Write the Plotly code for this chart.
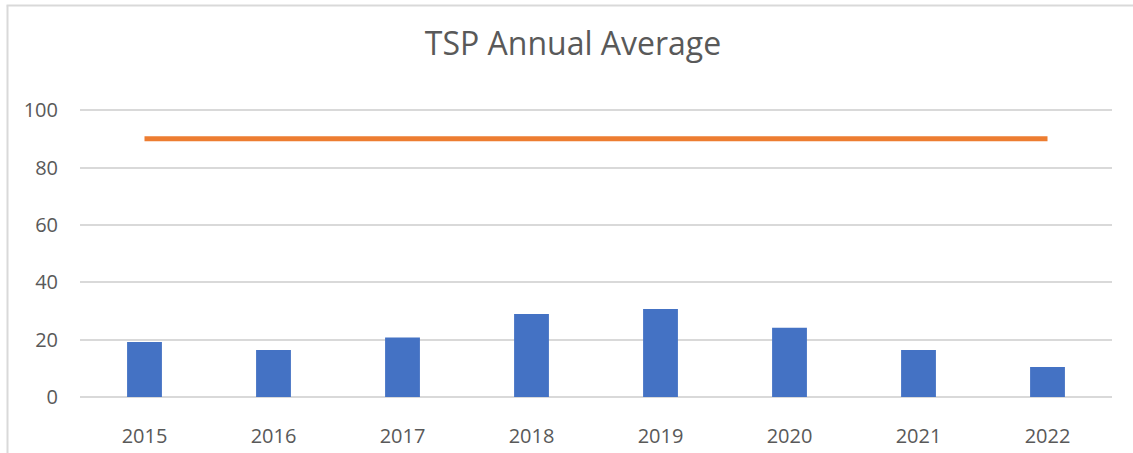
import plotly.graph_objects as go

years = ["2015", "2016", "2017", "2018", "2019", "2020", "2021", "2022"]
tsp_avg = [19.2, 16.4, 20.7, 28.9, 30.7, 24.1, 16.4, 10.5]
standard = [90, 90, 90, 90, 90, 90, 90, 90]
y_ticks = [0, 20, 40, 60, 80, 100]

W, H = 1133, 453
ML, MR, MT, MB = 80, 21, 109, 56
pw = W - ML - MR
ph = H - MT - MB

def px_x(x):
    return (x - ML) / pw

def px_y(y):
    return (H - MB - y) / ph

fig = go.Figure()
fig.add_trace(go.Bar(x=years, y=tsp_avg, marker=dict(color="#4472C4", line=dict(width=0)),
                     width=0.27, showlegend=False))
fig.add_trace(go.Scatter(x=years, y=standard, mode="lines",
                         line=dict(color="#ED7D31", width=5), showlegend=False))

fig.update_layout(
    width=W, height=H,
    margin=dict(l=ML, r=MR, t=MT, b=MB, autoexpand=False),
    paper_bgcolor="white", plot_bgcolor="white",
    font=dict(family="Open Sans", color="#595959"),
    title=dict(text="TSP Annual Average", x=573 / W, xref="container", xanchor="center",
               y=1 - 44 / H, yanchor="middle", font=dict(size=32, color="#595959")),
    xaxis=dict(showgrid=False, showline=False, zeroline=False, ticks="", automargin=False,
               tickfont=dict(size=20, color="#595959"), ticklabelstandoff=25),
    yaxis=dict(range=[0, 100.4], tickvals=y_ticks, showgrid=True, gridcolor="#D9D9D9",
               gridwidth=1.5, zeroline=True, zerolinecolor="#D9D9D9", zerolinewidth=1.5,
               showline=False, ticks="", automargin=False,
               tickfont=dict(size=20, color="#595959"), ticklabelstandoff=21),
    shapes=[
        dict(type="line", xref="paper", yref="paper", x0=px_x(7.5), x1=px_x(7.5),
             y0=px_y(5.5), y1=px_y(H + 5), line=dict(color="#D9D9D9", width=2)),
        dict(type="line", xref="paper", yref="paper", x0=px_x(6.5), x1=px_x(W + 5),
             y0=px_y(5.5), y1=px_y(5.5), line=dict(color="#D9D9D9", width=2)),
    ],
)

fig.write_html("out.html", config={"displayModeBar": False},
               post_script="document.body.style.margin='0';document.body.style.overflow='hidden';")
